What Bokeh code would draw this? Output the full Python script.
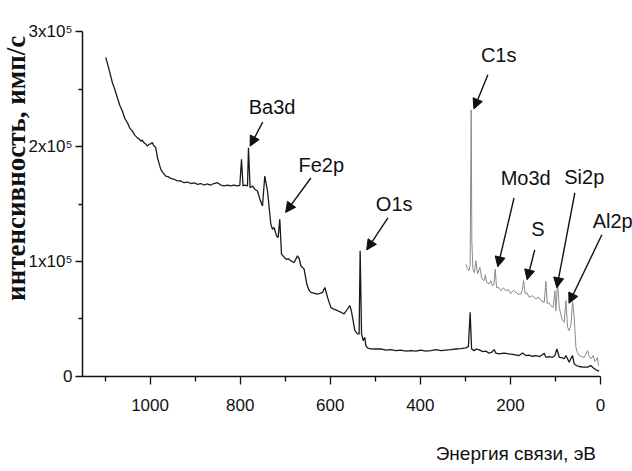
from bokeh.plotting import figure
from bokeh.models import Range1d, FixedTicker, Label, Arrow, NormalHead
from bokeh.embed import file_html
from bokeh.resources import INLINE

# ---------------- data ----------------
energy_main = [1098.4, 1091.0, 1083.5, 1078.4, 1072.4, 1067.3, 1061.3, 1056.2, 1050.2, 1045.1,
               1039.1, 1034.0, 1028.0, 1024.0, 1020.6, 1017.3, 1013.3, 1009.5, 1005.8, 1001.8,
               998.4, 995.1, 992.4, 987.3, 983.5, 979.5, 976.2, 970.7, 965.1, 958.4,
               954.0, 946.7, 940.7, 931.8, 924.5, 916.3, 909.6, 900.7, 894.7, 887.4,
               880.7, 874.1, 865.2, 858.5, 850.3, 843.0, 835.6, 827.4, 820.8, 814.1,
               805.9, 800.8, 797.0, 793.5, 789.7, 783.7, 781.5, 777.9, 772.6, 767.5,
               761.5, 756.4, 750.4, 745.3, 739.3, 735.3, 731.9, 728.2, 724.6, 719.3,
               715.7, 712.0, 708.2, 703.1, 698.6, 693.1, 687.5, 680.2, 672.6, 668.7,
               665.3, 658.0, 652.0, 647.6, 643.1, 636.5, 628.2, 623.1, 617.1, 612.0,
               606.0, 598.7, 592.0, 583.8, 576.5, 569.2, 561.6, 556.5, 553.2, 550.5,
               545.4, 539.4, 535.9, 533.6, 530.5, 527.0, 523.2, 521.0, 516.5, 509.9,
               498.8, 487.7, 476.6, 465.5, 454.4, 443.3, 432.1, 421.0, 409.9, 398.8,
               387.7, 376.6, 365.5, 354.4, 343.3, 332.2, 321.1, 310.0, 298.9, 293.3,
               289.4, 286.2, 280.5, 275.6, 269.4, 261.2, 254.5, 247.2, 241.2, 236.1,
               232.3, 225.0, 214.5, 202.7, 192.3, 180.5, 173.0, 165.7, 159.0, 150.8,
               143.5, 134.6, 125.0, 121.2, 114.6, 106.4, 101.3, 96.8, 91.7, 85.7,
               80.6, 76.8, 73.5, 69.5, 65.7, 62.0, 58.4, 53.5, 47.3, 39.1,
               28.6, 21.3, 15.8, 10.2, 2.9]
counts_main = [277500, 266900, 255200, 249800, 242200, 235900, 230700, 224600, 220600, 216000,
               213400, 209900, 207500, 206400, 204700, 205500, 203200, 202100, 200300, 202100,
               202300, 203400, 201200, 198900, 190200, 184700, 180100, 176900, 174300, 173500,
               172200, 171500, 170400, 170000, 168500, 169100, 167800, 168300, 167100, 167800,
               166500, 167400, 166500, 167800, 168500, 166500, 165700, 166500, 165700, 166500,
               165700, 166100, 188800, 165700, 166500, 165700, 198900, 164200, 165700, 162800,
               161300, 154400, 148300, 174300, 161300, 145700, 132400, 128100, 129500, 122300,
               120800, 136800, 106400, 104100, 102100, 102300, 100600, 99100, 104900, 102300,
               96300, 93400, 80400, 75500, 73100, 72400, 71700, 72200, 73100, 77400,
               68800, 60100, 58500, 57200, 55900, 54400, 58700, 61600, 57200, 51400,
               39900, 37000, 37000, 109300, 37000, 31200, 34100, 26900, 24700, 24000,
               23900, 24000, 23000, 23400, 22500, 23000, 22100, 22500, 22100, 23000,
               22100, 22500, 23400, 22500, 23000, 23400, 23900, 24300, 24900, 26000,
               55800, 24000, 22500, 23900, 23200, 21700, 22100, 20200, 21200, 23400,
               20400, 19700, 20400, 19700, 19100, 18200, 20400, 18200, 18600, 17600,
               18200, 17300, 20200, 16700, 17300, 16700, 18200, 24000, 16700, 16500,
               15400, 18200, 15600, 12400, 15600, 18200, 11000, 9500, 8700, 8200,
               8100, 9500, 7400, 5800, 4600]

energy_zoom = [298.9, 295.1, 292.2, 289.4, 287.1, 285.6, 283.4, 280.0, 276.7, 272.9,
               267.8, 263.4, 258.3, 255.6, 252.9, 247.2, 243.4, 239.6, 236.7, 233.8,
               230.7, 225.6, 221.2, 215.6, 210.1, 204.5, 199.0, 193.4, 187.9, 182.3,
               176.8, 173.4, 170.8, 167.2, 163.4, 158.3, 152.3, 143.5, 137.9, 132.4,
               125.0, 121.2, 118.4, 114.6, 110.1, 105.0, 101.3, 99.0, 95.3, 91.7,
               85.7, 80.6, 76.8, 73.1, 69.5, 65.7, 62.0, 58.4, 54.6, 51.3,
               47.3, 41.3, 36.2, 28.6, 24.6, 21.3, 16.2, 12.4, 10.2, 6.9, 4.2]
counts_zoom = [97700, 93700, 91900, 97100, 231800, 118000, 93700, 90200, 100600, 89300,
               94800, 85000, 83300, 88500, 81800, 80400, 83300, 78900, 79800, 93400,
               77400, 77200, 74600, 77200, 74600, 75500, 72200, 75000, 73100, 71600,
               71700, 75500, 83300, 71700, 72900, 68800, 70300, 67400, 69000, 65900,
               64400, 82700, 63600, 64200, 61600, 60100, 74600, 57200, 83300, 60100,
               50000, 47100, 65900, 42800, 39900, 44200, 65000, 51400, 25400, 20800,
               18200, 17300, 16700, 22500, 17300, 15400, 18200, 13000, 13900, 16500, 9500]

x_ticks = [0, 200, 400, 600, 800, 1000]
x_minor_ticks = [100, 300, 500, 700, 900, 1100]
y_ticks = [0, 100000, 200000, 300000]
y_tick_labels = ["0", "1x10\u2075", "2x10\u2075", "3x10\u2075"]
y_minor_ticks = [50000, 150000, 250000]

peak_names = ["Ba3d", "Fe2p", "O1s", "C1s", "Mo3d", "S", "Si2p", "Al2p"]

x_title = "Энергия связи, эВ"
y_title = "интенсивность, имп/с"

# ---------------- layout (placement in data units) ----------------
X_AXIS_SPAN = (0, 1150)
Y_AXIS_SPAN = (0, 300000)
label_xy = [(729, 234200), (620, 183900), (458, 150000), (226, 279300),
            (166, 172600), (139, 128400), (36, 173500), (-27, 135300)]
arrow_start = [(750, 221200), (643, 172600), (472, 137900), (250, 262400),
               (192, 155200), (146, 110100), (57, 159600), (-3, 123200)]
arrow_end = [(778, 200300), (699, 142700), (519, 110100), (281, 232700),
             (228, 95400), (163, 84100), (97, 77200), (70, 63700)]

FONT = "Liberation Sans"
INK = "#111111"

# the frame fills the whole canvas; axes are pinned inside it
p = figure(width=632, height=471, output_backend="svg", toolbar_location=None,
           x_range=Range1d(1332.05, -71.04), y_range=Range1d(-82609, 326957),
           min_border=0, min_border_left=0, min_border_right=0,
           min_border_top=0, min_border_bottom=0)
p.outline_line_color = None
p.xgrid.visible = False
p.ygrid.visible = False
p.background_fill_color = "white"
p.border_fill_color = "white"

p.line(energy_zoom, counts_zoom, line_color="#8a8a8a", line_width=1.0)
p.line(energy_main, counts_main, line_color="#1a1a1a", line_width=1.3)

for ax in (p.xaxis[0], p.yaxis[0]):
    ax.axis_line_color = INK
    ax.axis_line_width = 1.5
    ax.major_tick_line_color = INK
    ax.minor_tick_line_color = INK
    ax.major_tick_line_width = 1.3
    ax.minor_tick_line_width = 1.3
    ax.major_tick_in = 0
    ax.minor_tick_in = 0
    ax.major_label_text_font = FONT
    ax.major_label_text_font_size = "17px"
    ax.major_label_text_color = INK

xa = p.xaxis[0]
xa.fixed_location = Y_AXIS_SPAN[0]
xa.bounds = X_AXIS_SPAN
xa.ticker = FixedTicker(ticks=x_ticks, minor_ticks=x_minor_ticks)
xa.major_tick_out = 8
xa.minor_tick_out = 5
xa.major_label_standoff = 15

ya = p.yaxis[0]
ya.fixed_location = X_AXIS_SPAN[1]
ya.bounds = Y_AXIS_SPAN
ya.ticker = FixedTicker(ticks=y_ticks, minor_ticks=y_minor_ticks)
ya.major_label_overrides = {t: s for t, s in zip(y_ticks, y_tick_labels)}
ya.major_tick_out = 7
ya.minor_tick_out = 4
ya.major_label_standoff = 3

# axis titles
p.add_layout(Label(x=10, y=-67000, text=x_title, text_font=FONT, text_font_size="19px",
                   text_align="right", text_baseline="middle", text_color=INK))
p.add_layout(Label(x=1297, y=181000, text=y_title, text_font="Liberation Serif",
                   text_font_style="bold", text_font_size="27px", angle=1.5708,
                   text_align="center", text_baseline="middle", text_color=INK))

for name, (lx, ly), (sx, sy), (ex, ey) in zip(peak_names, label_xy, arrow_start, arrow_end):
    p.add_layout(Arrow(end=NormalHead(size=10, fill_color=INK, line_color=INK),
                       x_start=sx, y_start=sy, x_end=ex, y_end=ey,
                       line_color=INK, line_width=1.4))
    p.add_layout(Label(x=lx, y=ly, text=name, text_font=FONT, text_font_size="20px",
                       text_align="center", text_baseline="middle", text_color=INK))

open("out.html", "w").write(file_html(p, INLINE))
